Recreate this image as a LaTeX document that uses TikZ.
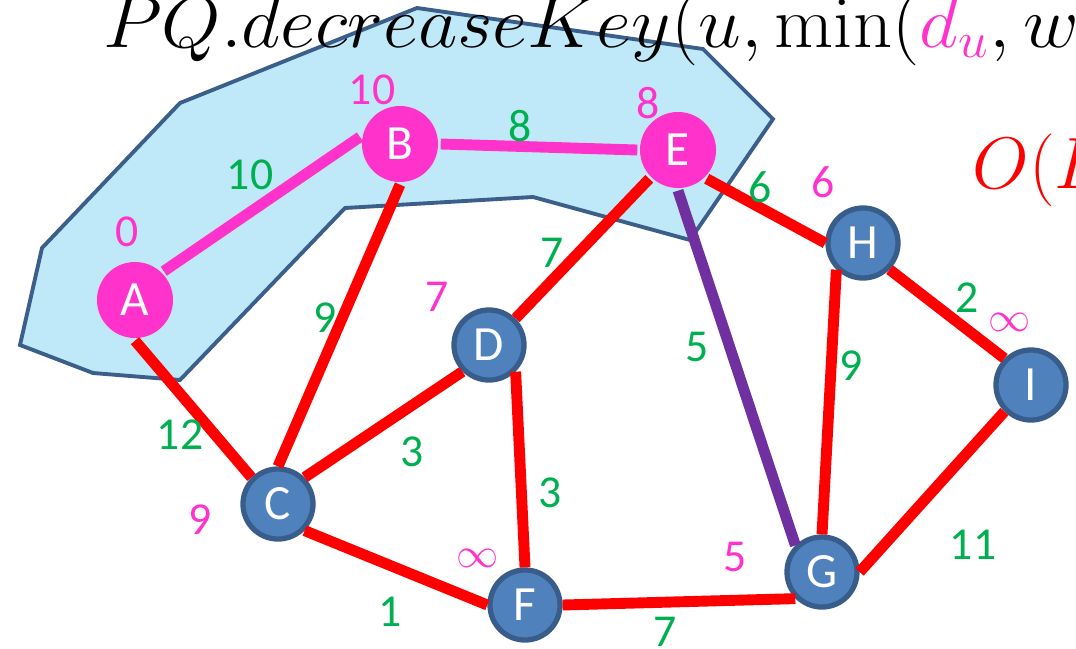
\documentclass[tikz,border=0pt]{standalone}
\usepackage[no-math]{fontspec}
\setmainfont{Carlito}
\usetikzlibrary{positioning}

\definecolor{pk}{HTML}{FF33CC}
\definecolor{wgreen}{HTML}{00B050}
\definecolor{edgered}{HTML}{FF0000}
\definecolor{edgepurple}{HTML}{7030A0}
\definecolor{nodeblue}{HTML}{4F81BD}
\definecolor{nodeedge}{HTML}{385D8A}
\definecolor{cloudfill}{HTML}{BFE9F8}
\definecolor{cloudedge}{HTML}{3B5E8A}

\begin{document}
\begin{tikzpicture}[
  x=0.01cm, y=-0.01cm,
  font=\fontsize{13}{15}\selectfont,
  vtx/.style={circle, minimum size=0.70cm, inner sep=0pt, text=white,
              fill=nodeblue, draw=nodeedge, line width=1.5pt,
              font=\fontsize{14}{16}\selectfont},
  done/.style={vtx, fill=pk, draw=none, minimum size=0.76cm},
  edge/.style={draw=edgered, line width=3.1pt},
  wt/.style={text=wgreen},
  dist/.style={text=pk},
  formula/.style={anchor=base west, font=\fontsize{20.74}{24}\selectfont}
]
\clip (0,0) rectangle (1076,648);

% visited region
\draw[fill=cloudfill, draw=cloudedge, line width=1.1pt]
  (180,103) -- (417,8) -- (703,49) -- (773,119) -- (690,240) -- (533,197)
  -- (345,208) -- (180,380) -- (93,373) -- (20,345) -- (42,248) -- cycle;

\node[formula, xscale=1.05] (pq) at (90,47) {$PQ.decreaseKey(u,\min(\textcolor{pk}{d_u},w$};
\node[formula, text=edgered] (oe) at (960,188) {$O(E$};

% vertices
\node[done] (A) at (135,300) {A};
\node[done] (B) at (400,144) {B};
\node[done] (E) at (678,150) {E};
\node[vtx] (D) at (489,345) {D};
\node[vtx] (H) at (863,243) {H};
\node[vtx] (I) at (1031,385) {I};
\node[vtx] (C) at (278,504) {C};
\node[vtx] (F) at (525,605) {F};
\node[vtx] (G) at (822,572) {G};

% edges
\draw[edge, draw=pk] (A.north east) -- (B.170);
\draw[edge, draw=pk] (B.east) -- (E.west);
\draw[edge] (A.south) -- (C.north west);
\draw[edge] (B.south) -- (C.north);
\draw[edge] (C.north east) -- (D.south west);
\draw[edge] (C.south east) -- (F.west);
\draw[edge] (D.north east) -- (E.south west);
\draw[edge] (D.south east) -- (F.north);
\draw[edge] (E.south east) -- (H.west);
\draw[edge, draw=edgepurple] (E.south) -- (G.north west);
\draw[edge] (H.south west) -- (G.north);
\draw[edge] (H.south east) -- (I.north west);
\draw[edge] (I.south west) -- (G.east);
\draw[edge] (F.east) -- (G.south west);

% weights
\node[wt] (wAB) at (250,175) {10};
\node[wt] (wBE) at (520,126) {8};
\node[wt] (wEH) at (760,187) {6};
\node[wt] (wDE) at (552,253) {7};
\node[wt] (wBC) at (325,318) {9};
\node[wt] (wAC) at (180,435) {12};
\node[wt] (wCD) at (412,452) {3};
\node[wt] (wEG) at (697,347) {5};
\node[wt] (wHG) at (851,366) {9};
\node[wt] (wHI) at (967,298) {2};
\node[wt] (wDF) at (550,493) {3};
\node[wt] (wCF) at (390,612) {1};
\node[wt] (wFG) at (665,632) {7};
\node[wt] (wIG) at (973,545) {11};

% distances
\node[dist] (dA) at (127,232) {0};
\node[dist] (dB) at (372,90) {10};
\node[dist] (dE) at (648,103) {8};
\node[dist] (dH) at (823,182) {6};
\node[dist] (dD) at (437,297) {7};
\node[dist] (dI) at (1010,322) {$\infty$};
\node[dist] (dC) at (200,520) {9};
\node[dist] (dF) at (478,558) {$\infty$};
\node[dist] (dG) at (735,557) {5};
\end{tikzpicture}
\end{document}
